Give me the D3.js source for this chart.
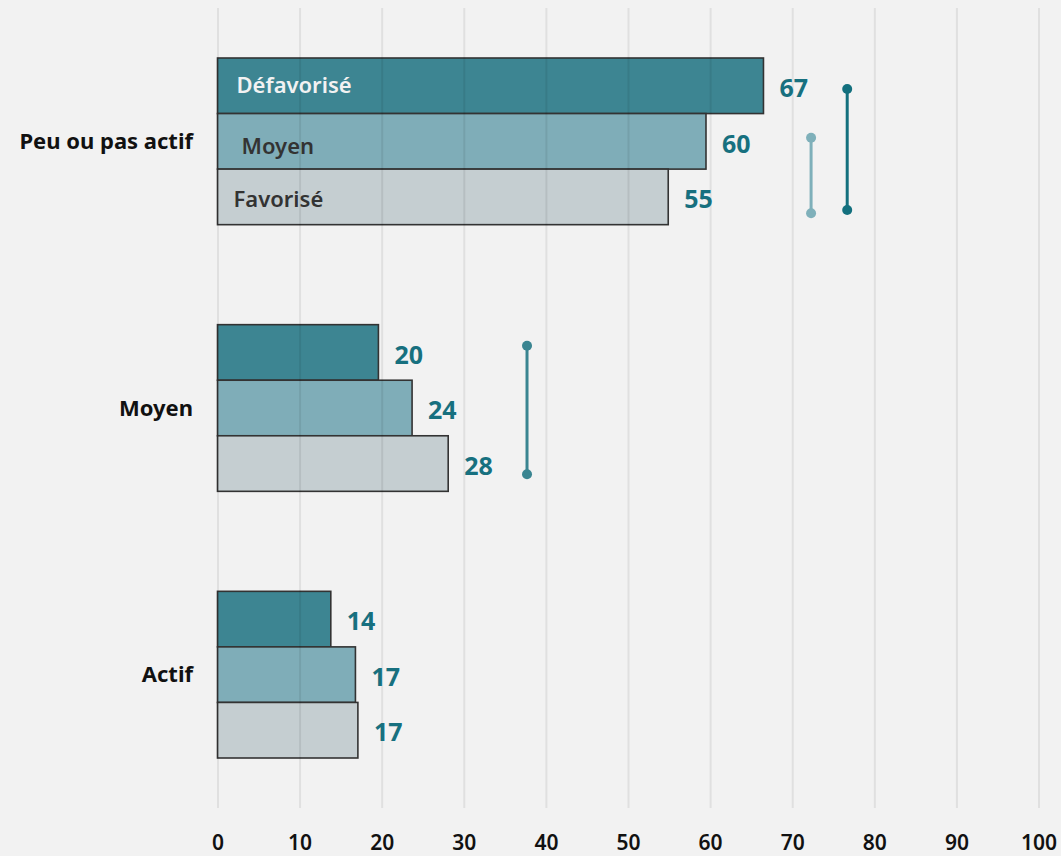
<!DOCTYPE html>
<html><head><meta charset="utf-8">
<script src="https://cdn.jsdelivr.net/npm/d3@7"></script>
<style>
html,body{margin:0;padding:0;background:#f2f2f2;}
svg{display:block;font-family:"Noto Sans","Open Sans",sans-serif;}
</style></head>
<body><svg id="c" width="1061" height="856"></svg>
<script>
const categories = ["Peu ou pas actif", "Moyen", "Actif"];
const series = ["Défavorisé", "Moyen", "Favorisé"];
const defavorise = [66.5, 19.6, 13.8];
const moyen = [59.5, 23.7, 16.8];
const favorise = [54.9, 28.1, 17.1];
const xTicks = [0, 10, 20, 30, 40, 50, 60, 70, 80, 90, 100];
// gap markers: category, x value, start/end (fraction of group band), style
const gapCategory = ["Peu ou pas actif", "Peu ou pas actif", "Moyen"];
const gapValue = [76.7, 72.3, 37.7];
const gapFrom = [0.186, 0.478, 0.126];
const gapTo = [0.912, 0.932, 0.897];
const gapColor = ["#13707e", "#7fb0ba", "#3a8591"];

const seriesValues = [defavorise, moyen, favorise];
const fills = ["#3d8592", "#7fadb8", "#c5ced1"];
const innerText = ["#f2f2f2", "#333333", "#333333"];

const svg = d3.select("#c");
const x = d3.scaleLinear().domain([0, 100]).range([217.5, 1038.5]);
const y = d3.scaleBand().domain(categories).range([8, 808]).paddingInner(0.375).paddingOuter(0.1875);
const ys = d3.scaleBand().domain(series).range([0, y.bandwidth()]);

const data = [];
categories.forEach((c, i) => series.forEach((s, j) => data.push({c, s, j, v: seriesValues[j][i]})));

// bars
svg.append("g").selectAll("rect").data(data).join("rect")
  .attr("x", x(0))
  .attr("y", d => y(d.c) + ys(d.s))
  .attr("width", d => x(d.v) - x(0))
  .attr("height", ys.bandwidth())
  .attr("fill", d => fills[d.j])
  .attr("stroke", "#333")
  .attr("stroke-width", 1.6);

// grid (drawn over bars, faint)
const gx = d3.axisBottom(x).tickValues(xTicks).tickSize(-800).tickFormat(d3.format("d"));
const gAxis = svg.append("g").attr("transform", "translate(0,808)").call(gx);
gAxis.select(".domain").remove();
gAxis.selectAll(".tick line").attr("stroke", "rgba(0,0,0,0.075)").attr("stroke-width", 2);
gAxis.selectAll(".tick text").attr("y", 35).attr("dy", "0.35em")
  .attr("font-size", 21).attr("font-weight", 600).attr("fill", "#111")
  .attr("font-family", "'Noto Sans', sans-serif");

// value labels
svg.append("g").selectAll("text").data(data).join("text")
  .attr("x", d => x(d.v) + 16)
  .attr("y", d => y(d.c) + ys(d.s) + ys.bandwidth() / 2 + 2.5)
  .attr("dy", "0.35em")
  .attr("font-size", 25).attr("font-weight", 700).attr("fill", "#17707f")
  .text(d => Math.round(d.v));

// series names inside first group
const first = categories[0];
const nameOffset = [19, 24, 16];
const nameDy = [0, 5, 2];
svg.append("g").selectAll("text").data(series).join("text")
  .attr("x", (s, j) => x(0) + nameOffset[j])
  .attr("y", (s, j) => y(first) + ys(s) + ys.bandwidth() / 2 + nameDy[j])
  .attr("dy", "0.35em")
  .attr("font-size", 22).attr("font-weight", 600)
  .attr("fill", (s, j) => innerText[j])
  .text(s => s);

// category labels
svg.append("g").selectAll("text").data(categories).join("text")
  .attr("x", 193)
  .attr("y", c => y(c) + y.bandwidth() / 2)
  .attr("dy", "0.35em")
  .attr("text-anchor", "end")
  .attr("font-size", 22).attr("font-weight", 700).attr("fill", "#111")
  .text(c => c);

// gap markers (dumbbells)
const gaps = gapCategory.map((c, i) => ({c, v: gapValue[i], a: gapFrom[i], b: gapTo[i], col: gapColor[i]}));
const gg = svg.append("g").selectAll("g").data(gaps).join("g");
const fy = d3.scaleLinear().domain([0, 1]).range([0, y.bandwidth()]);
gg.append("line")
  .attr("x1", d => x(d.v)).attr("x2", d => x(d.v))
  .attr("y1", d => y(d.c) + fy(d.a)).attr("y2", d => y(d.c) + fy(d.b))
  .attr("stroke", d => d.col).attr("stroke-width", 3);
gg.append("circle").attr("cx", d => x(d.v)).attr("cy", d => y(d.c) + fy(d.a)).attr("r", 5).attr("fill", d => d.col);
gg.append("circle").attr("cx", d => x(d.v)).attr("cy", d => y(d.c) + fy(d.b)).attr("r", 5).attr("fill", d => d.col);
</script></body></html>
